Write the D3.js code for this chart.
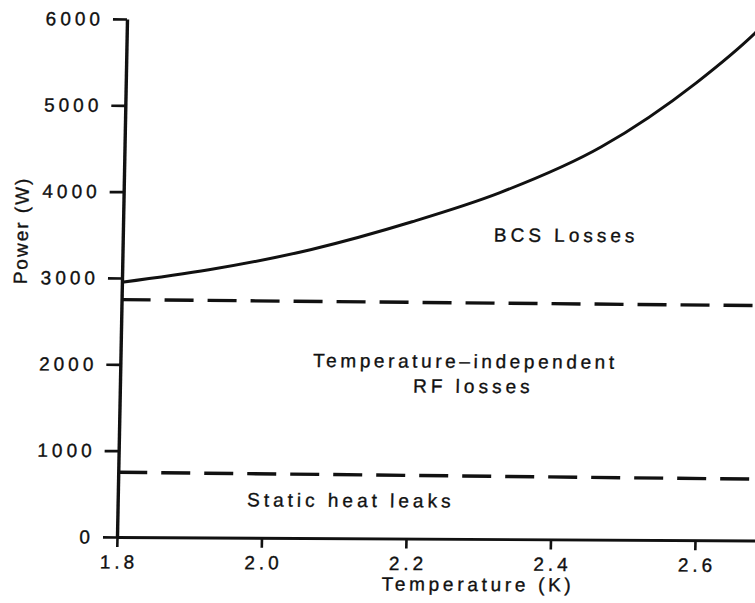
<!DOCTYPE html>
<html>
<head>
<meta charset="utf-8">
<script src="https://cdn.jsdelivr.net/npm/d3@7/dist/d3.min.js"></script>
<style>
  body { margin: 0; background: #fff; }
  svg text { font-family: 'Liberation Sans', Arial, Helvetica, sans-serif; fill: #111; stroke: #111; stroke-width: 0.35px; }
</style>
</head>
<body>
<div id="chart"></div>
<script>
// values
const temps = [1.80, 1.92, 2.06, 2.20, 2.32, 2.46, 2.59, 2.67, 2.70];
const bcsTotal = [2950, 3100, 3340, 3670, 4010, 4550, 5300, 5880, 6140];
const levelTemps = [1.8, 2.7];
const rfLevel = [2750, 2720];
const staticLevel = [750, 710];
const xTicks = [1.8, 2.0, 2.2, 2.4, 2.6];
const yTicks = [0, 1000, 2000, 3000, 4000, 5000, 6000];
const xTitle = 'Temperature (K)';
const yTitle = 'Power (W)';
const regionLabels = ['BCS Losses', 'Temperature\u2013independent', 'RF losses', 'Static heat leaks'];

const width = 755;
const height = 603;
const ink = '#111';

let svg = d3.select('#chart').append('svg').attr('width', width).attr('height', height);

// the scan is slightly sheared, so the whole plot gets a small skew around the origin
let g = svg.append('g')
  .attr('transform', 'translate(117,537) matrix(1,0.0055,-0.0193,1,0,0) translate(-117,-537)');

let x = d3.scaleLinear().domain([1.8, 2.8]).range([117, 839.5]);
let y = d3.scaleLinear().domain([0, 6000]).range([537, 19]);

const styleAxis = (sel, sw) => {
  sel.attr('font-family', null).attr('font-size', null);
  sel.select('.domain').attr('stroke', ink).attr('stroke-width', sw);
  sel.selectAll('.tick line').attr('stroke', ink).attr('stroke-width', 2.6);
  sel.selectAll('.tick text')
    .style('font-size', '19px')
    .style('letter-spacing', '4px');
};

let xAxis = g.append('g')
  .attr('transform', `translate(0,${y(0)})`)
  .call(d3.axisBottom(x).tickValues(xTicks).tickFormat(d3.format('.1f'))
    .tickSize(10).tickSizeOuter(0).tickPadding(8));
styleAxis(xAxis, 2.8);
xAxis.selectAll('.tick text').attr('dx', '2px');

let yAxis = g.append('g')
  .attr('transform', `translate(${x(1.8)},0)`)
  .call(d3.axisLeft(y).tickValues(yTicks).tickFormat(d3.format('d'))
    .tickSize(14).tickSizeOuter(0).tickPadding(9));
styleAxis(yAxis, 3.4);

// BCS curve (total power)
let bcsData = temps.map((t, i) => ({ t: t, p: bcsTotal[i] }));
let line = d3.line().x((d) => x(d.t)).y((d) => y(d.p)).curve(d3.curveMonotoneX);

g.append('path')
  .datum(bcsData)
  .attr('d', line)
  .attr('fill', 'none')
  .attr('stroke', ink)
  .attr('stroke-width', 3);

// dashed boundaries between the loss contributions
[rfLevel, staticLevel].forEach((level) => {
  let pts = levelTemps.map((t, i) => ({ t: t, p: level[i] }));
  g.append('path')
    .datum(pts)
    .attr('d', d3.line().x((d) => x(d.t)).y((d) => y(d.p)))
    .attr('fill', 'none')
    .attr('stroke', ink)
    .attr('stroke-width', 3.4)
    .attr('stroke-dasharray', '29,14');
});

// region labels
const labelAt = [[2.3135, 3447], [2.0667, 1981], [2.2058, 1692], [1.9791, 363]];
const labelSpacing = [4, 3.6, 4, 4];
regionLabels.forEach((txt, i) => {
  g.append('text')
    .attr('x', x(labelAt[i][0]))
    .attr('y', y(labelAt[i][1]))
    .style('font-size', '19px')
    .style('letter-spacing', labelSpacing[i] + 'px')
    .text(txt);
});

// axis titles
g.append('text')
  .attr('x', 479)
  .attr('y', 589)
  .attr('text-anchor', 'middle')
  .style('font-size', '19px')
  .style('letter-spacing', '3.7px')
  .text(xTitle);

g.append('text')
  .attr('transform', 'translate(22,231) rotate(-90)')
  .attr('text-anchor', 'middle')
  .style('font-size', '19px')
  .style('letter-spacing', '2px')
  .text(yTitle);
</script>
</body>
</html>
